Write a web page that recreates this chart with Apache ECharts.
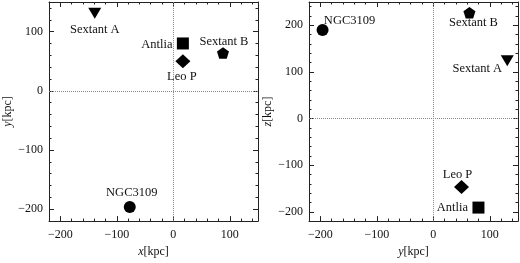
<!DOCTYPE html>
<html>
<head>
<meta charset="utf-8">
<script src="https://cdn.jsdelivr.net/npm/echarts@6/dist/echarts.min.js"></script>
<style>
  html, body { margin: 0; padding: 0; background: #fff; }
  #chart { width: 520px; height: 263px; }
</style>
</head>
<body>
<div id="chart"></div>
<script>
// galaxy positions in kpc
var names = ['NGC3109', 'Antlia', 'Leo P', 'Sextant A', 'Sextant B']
var xVals = [-77, 17, 17, -139, 88]
var yVals = [-196, 80, 50, 131, 64]
var zVals = [190, -191, -147, 124, 227]

// axis ticks
var xyMajor = [-200, -100, 0, 100]
var zMajor = [-200, -100, 0, 100, 200]
var minorStep = 20

var pentagon = 'path://M0,-10 L9.51,-3.09 L5.88,8.09 L-5.88,8.09 L-9.51,-3.09 Z'
var symbols = {
  'NGC3109': { symbol: 'circle', size: 12, rotate: 0 },
  'Antlia': { symbol: 'rect', size: 12, rotate: 0 },
  'Leo P': { symbol: 'diamond', size: [15, 14], rotate: 0 },
  'Sextant A': { symbol: 'triangle', size: [13, 11], rotate: 180 },
  'Sextant B': { symbol: pentagon, size: 12, rotate: 0 }
}
// label offsets from marker centre (px)
var leftOffsets = {
  'NGC3109': [2, -14], 'Antlia': [-26, 1], 'Leo P': [-1, 16],
  'Sextant A': [0, 16], 'Sextant B': [1, -11]
}
var rightOffsets = {
  'NGC3109': [27, -9], 'Antlia': [-26, 0], 'Leo P': [-4, -12],
  'Sextant A': [-30, 8], 'Sextant B': [4, 10]
}

var font = 'Liberation Serif'
var axisColor = '#222'

function minus(v) {
  return String(v).replace('-', '\u2212')
}

// 4 axes per side: main(labels) + minor, opposite + minor
function makeAxes(dim, grid, min, max, major, name) {
  var isX = dim === 'x'
  var pos = isX ? ['bottom', 'top'] : ['left', 'right']
  var list = []
  pos.forEach(function (p, i) {
    list.push({
      type: 'value', gridIndex: grid, position: p, min: min, max: max,
      axisLine: { show: true, onZero: false, lineStyle: { color: axisColor, width: 1 } },
      axisTick: { show: true, inside: true, length: 5, customValues: major, lineStyle: { color: axisColor } },
      axisLabel: {
        show: i === 0, customValues: major, margin: isX ? 8 : 6,
        fontFamily: font, fontSize: 12, color: '#111', formatter: minus
      },
      splitLine: { show: false },
      name: i === 0 ? name : '',
      nameLocation: 'middle',
      nameGap: isX ? 23 : 34,
      nameTextStyle: {
        fontFamily: font, fontSize: 12, color: '#111',
        rich: { it: { fontFamily: font, fontSize: 12, fontStyle: 'italic', color: '#111' } }
      }
    })
    list.push({
      type: 'value', gridIndex: grid, position: p, min: min, max: max, interval: minorStep,
      axisLine: { show: false, onZero: false },
      axisTick: { show: true, inside: true, length: 2.5, lineStyle: { color: axisColor } },
      axisLabel: { show: false },
      splitLine: { show: false }
    })
  })
  return list
}

var xAxes = [].concat(
  makeAxes('x', 0, -220, 150, xyMajor, '{it|x}[kpc]'),
  makeAxes('x', 1, -220, 150, xyMajor, '{it|y}[kpc]')
)
var yAxes = [].concat(
  makeAxes('y', 0, -220, 150, xyMajor, '{it|y}[kpc]'),
  makeAxes('y', 1, -220, 250, zMajor, '{it|z}[kpc]')
)

var zeroLines = {
  silent: true, symbol: 'none', animation: false,
  label: { show: false },
  lineStyle: { type: 'dotted', color: '#888', width: 1 },
  data: [{ xAxis: 0 }, { yAxis: 0 }]
}

var series = []
names.forEach(function (n, i) {
  var s = symbols[n]
  var panels = [
    { grid: 0, pt: [xVals[i], yVals[i]], off: leftOffsets[n] },
    { grid: 1, pt: [yVals[i], zVals[i]], off: rightOffsets[n] }
  ]
  panels.forEach(function (p) {
    var item = {
      type: 'scatter', name: n,
      xAxisIndex: p.grid * 4, yAxisIndex: p.grid * 4,
      data: [p.pt],
      symbol: s.symbol, symbolSize: s.size, symbolRotate: s.rotate,
      symbolKeepAspect: true,
      itemStyle: { color: '#000', opacity: 1 },
      label: {
        show: true, position: 'inside', offset: p.off,
        formatter: n, color: '#111', fontFamily: font, fontSize: 12.5
      },
      emphasis: { disabled: true },
      z: 3
    }
    if (i === 0) item.markLine = zeroLines
    series.push(item)
  })
})

var myChart = echarts.init(document.getElementById('chart'))
myChart.setOption({
  animation: false,
  grid: [
    { left: 49, right: 262, top: 2, bottom: 33 },
    { left: 309, right: 2, top: 2, bottom: 33 }
  ],
  xAxis: xAxes,
  yAxis: yAxes,
  series: series
})
</script>
</body>
</html>
